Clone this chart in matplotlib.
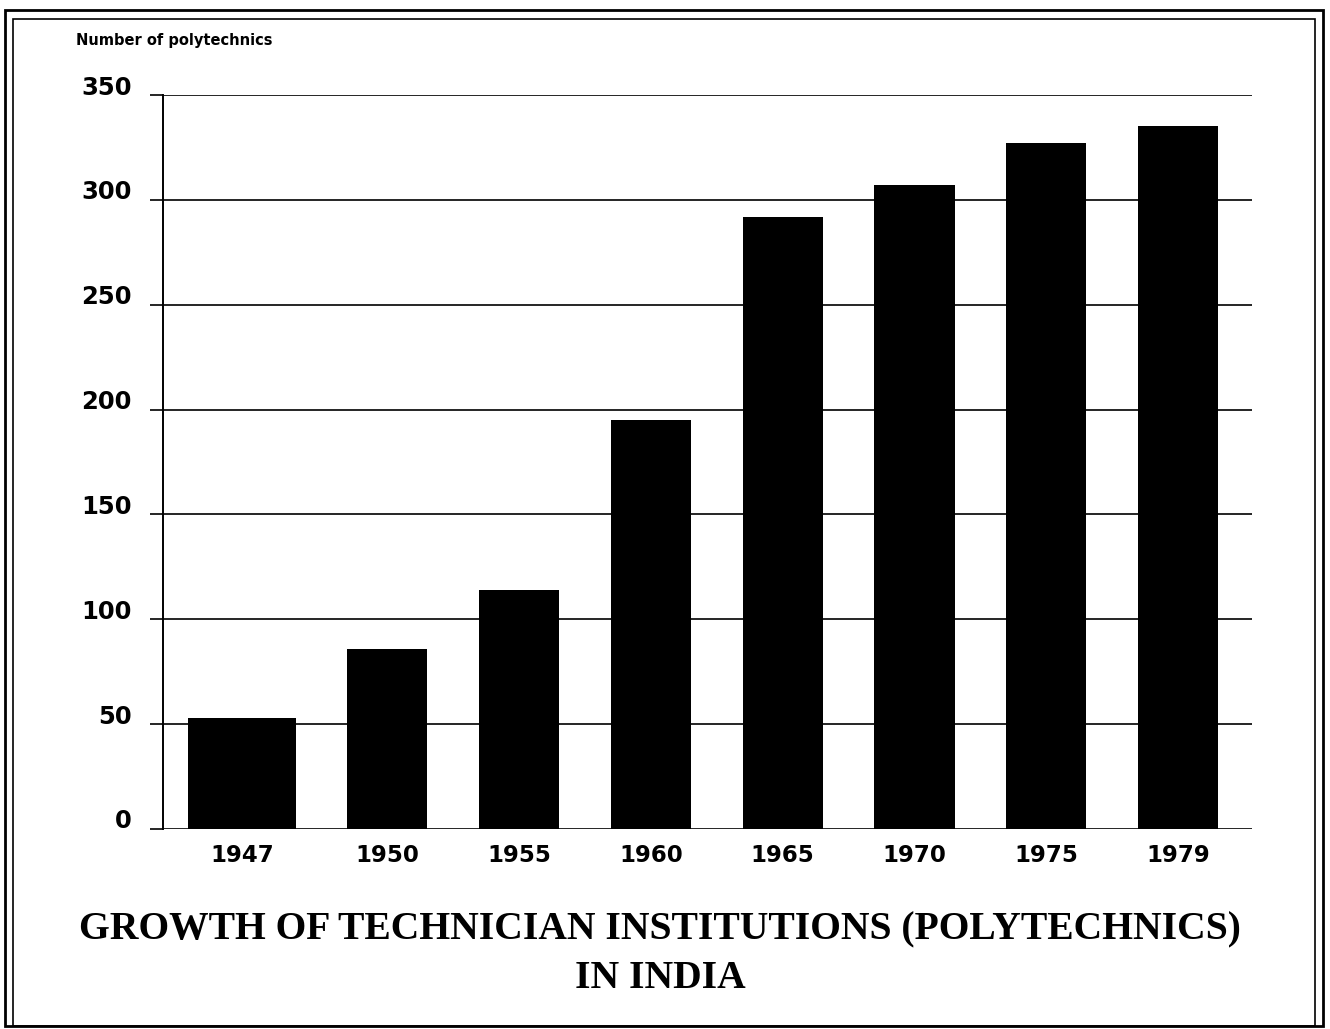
"""
Recreate the polytechnics growth bar chart (India, 1947-1979).
"""
import numpy as np
import matplotlib
matplotlib.use('Agg')
import matplotlib.pyplot as plt
from matplotlib.patches import Rectangle
from matplotlib.transforms import ScaledTranslation

# --- data ---
years = ['1947', '1950', '1955', '1960', '1965', '1970', '1975', '1979']
polytechnics = [53, 86, 114, 195, 292, 307, 327, 335]
y_ticks = [0, 50, 100, 150, 200, 250, 300, 350]

y_label = 'Number of polytechnics'
title_1 = 'GROWTH OF TECHNICIAN INSTITUTIONS (POLYTECHNICS)'
title_2 = 'IN INDIA'

W, H = 1330, 1029


def main():
    fig = plt.figure(figsize=(W / 100, H / 100), dpi=100)
    fig.patch.set_facecolor('white')

    # axes box in pixel terms: left 163, right 1252, top 95, bottom 829
    ax = fig.add_axes([163 / W, (H - 829) / H, (1252 - 163) / W, (829 - 95) / H])

    x = np.arange(len(years), dtype=float)
    widths = np.full(len(years), 0.607)
    # first bar is drawn wider and a little to the left in the original
    widths[0] = 0.82
    x[0] -= 0.10

    ax.bar(x, polytechnics, width=widths, color='black', zorder=3)

    ax.set_xlim(-0.70, 7.56)
    ax.set_ylim(0, 350)
    ax.set_yticks(y_ticks)
    ax.set_yticklabels([str(v) for v in y_ticks])
    ax.yaxis.grid(True, color='black', linewidth=1.2, zorder=1)
    ax.set_axisbelow(True)

    for side in ('top', 'right', 'bottom'):
        ax.spines[side].set_visible(False)
    ax.spines['left'].set_linewidth(1.4)
    ax.spines['left'].set_zorder(2)

    ax.tick_params(axis='y', length=9.5, width=1.2, direction='out', pad=13,
                   labelsize=17.5)
    ax.tick_params(axis='x', length=0, pad=11, labelsize=16.5)
    ax.set_xticks(x)
    ax.set_xticklabels(years)
    for lab in ax.get_yticklabels() + ax.get_xticklabels():
        lab.set_fontweight('bold')
        lab.set_fontfamily('DejaVu Sans')
    # y labels sit a bit above their gridlines in the original
    shift = ScaledTranslation(0, 10 / 100, fig.dpi_scale_trans)
    for lab in ax.get_yticklabels():
        lab.set_transform(lab.get_transform() + shift)

    fig.text(76 / W, 1 - 40 / H, y_label, fontsize=10.5, fontweight='bold',
             ha='left', va='center', family='DejaVu Sans')

    fig.text(660 / W, 1 - 930 / H, title_1, fontsize=28.5, fontweight='bold',
             ha='center', va='center', family='Liberation Serif')
    fig.text(660 / W, 1 - 978 / H, title_2, fontsize=28.5, fontweight='bold',
             ha='center', va='center', family='Liberation Serif')

    # double frame around the whole figure
    for (x0, y0, x1, y1, lw) in [(5, 10, 1323, 1026, 2.0), (13, 19, 1315, 1026, 1.2)]:
        fig.add_artist(Rectangle((x0 / W, 1 - y1 / H), (x1 - x0) / W, (y1 - y0) / H,
                                 transform=fig.transFigure, fill=False,
                                 edgecolor='black', linewidth=lw))

    fig.savefig('out.png', dpi=100, facecolor='white')
    plt.close(fig)


if __name__ == '__main__':
    main()
